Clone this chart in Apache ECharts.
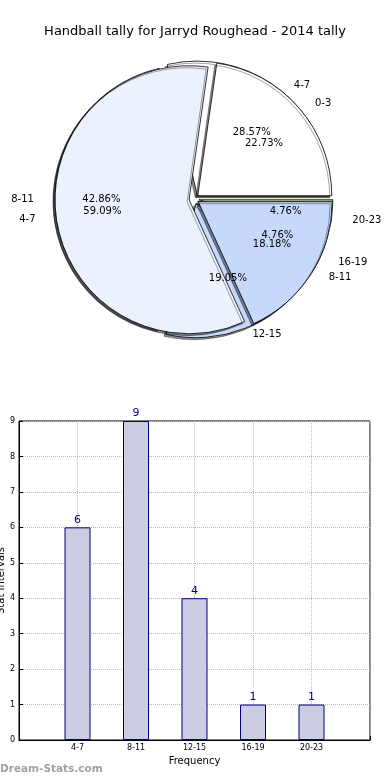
<!DOCTYPE html>
<html><head><meta charset="utf-8">
<script src="https://cdn.jsdelivr.net/npm/echarts@6/dist/echarts.min.js"></script>
<style>html,body{margin:0;padding:0;background:#fff}#c{width:390px;height:780px}</style>
</head><body><div id="c"></div>
<script>
const titleText = 'Handball tally for Jarryd Roughead - 2014 tally';
// Pie 1 (2014 tally)
const tallyCategories = ['4-7', '8-11', '12-15', '16-19', '20-23'];
const tallyValues = [6, 9, 4, 1, 1];
// Pie 2 (overlaid tally)
const otherCategories = ['0-3', '4-7', '8-11'];
const otherValues = [5, 13, 4];
// Bar chart
const barCategories = ['4-7', '8-11', '12-15', '16-19', '20-23'];
const barValues = [6, 9, 4, 1, 1];
const xAxisName = 'Frequency';
const yAxisName = 'Stat Intervals';
const watermark = 'Dream-Stats.com';

const FONT = 'DejaVu Sans';
const tallyColors = ['#ffffff', '#ebf1fd', '#c6d9fd', '#d6e6a4', '#b6c97c'];
const otherColors = ['#ffffff', '#ebf1fd', '#c6d9fd'];

const CENTER = [194, 199];
const R = 134;            // drawn radius
const RX = 141, RY = 128; // reference ellipse radii (for label placement)
const EXPLODE = 5;
const NAME_LEN = 14;

function midAngles(values) {
  const sum = values.reduce((a, b) => a + b, 0);
  let cum = 0;
  return values.map(v => { const m = (cum + v / 2) / sum * 2 * Math.PI; cum += v; return m; });
}

function visiblePie(names, values, colors) {
  const mids = midAngles(values);
  return {
    type: 'pie', center: CENTER, radius: R, startAngle: 0, clockwise: false,
    selectedMode: 'multiple', selectedOffset: EXPLODE, avoidLabelOverlap: false,
    animation: false, silent: true,
    itemStyle: { borderColor: '#000', borderWidth: 0.8, shadowColor: 'rgba(0,0,0,0.45)', shadowOffsetX: -2, shadowOffsetY: 2, shadowBlur: 0.5 },
    label: { show: true, position: 'outside', formatter: '{b}', fontSize: 10, color: '#000', fontFamily: FONT, distanceToLabelLine: 0 },
    labelLine: { show: false, length: NAME_LEN, length2: 0 },
    labelLayout: p => {
      const a = mids[p.dataIndex];
      return { hideOverlap: false,
        dx: (1.1 * RX - R - NAME_LEN) * Math.cos(a),
        dy: (R + NAME_LEN - 1.1 * RY) * Math.sin(a) };
    },
    emphasis: { disabled: true },
    data: names.map((n, i) => ({ name: n, value: values[i], selected: true, itemStyle: { color: colors[i] } }))
  };
}

function percentPie(names, values) {
  const sum = values.reduce((a, b) => a + b, 0);
  const mids = midAngles(values);
  return {
    type: 'pie', center: CENTER, radius: [0, R * 1.2], startAngle: 0, clockwise: false,
    selectedMode: 'multiple', selectedOffset: EXPLODE, avoidLabelOverlap: false,
    animation: false, silent: true,
    itemStyle: { color: 'rgba(0,0,0,0)', borderWidth: 0 },
    label: { show: true, position: 'inside', fontSize: 10, color: '#000', fontFamily: FONT,
      formatter: p => (p.value / sum * 100).toFixed(2) + '%' },
    labelLine: { show: false },
    labelLayout: p => {
      const a = mids[p.dataIndex];
      return { hideOverlap: false,
        dx: 0.6 * (RX - R) * Math.cos(a),
        dy: 0.6 * (R - RY) * Math.sin(a) };
    },
    emphasis: { disabled: true },
    data: names.map((n, i) => ({ name: n, value: values[i], selected: true }))
  };
}

const chart = echarts.init(document.getElementById('c'));
chart.setOption({
  backgroundColor: '#fff',
  animation: false,
  title: { text: titleText, left: 'center', top: 20, textStyle: { fontFamily: FONT, fontSize: 13, fontWeight: 'normal', color: '#000' } },
  graphic: [{ type: 'text', left: 0, top: 764, style: { text: watermark, fontFamily: FONT, fontSize: 10.5, fontWeight: 'bold', fill: '#a0a0a0' } }],
  grid: { left: 19, right: 20, top: 421, bottom: 40, show: true, borderColor: '#000', borderWidth: 1, containLabel: false, outerBoundsMode: 'none' },
  xAxis: {
    type: 'value', min: -1, max: 5, interval: 1,
    name: xAxisName, nameLocation: 'middle', nameGap: 16, nameMoveOverlap: false,
    nameTextStyle: { fontFamily: FONT, fontSize: 10, color: '#000' },
    axisLine: { onZero: false, lineStyle: { color: '#000' } },
    axisTick: { inside: true, length: 4, lineStyle: { color: '#000' } },
    axisLabel: { fontFamily: FONT, fontSize: 8, color: '#000', margin: 4,
      formatter: v => (barCategories[v] !== undefined ? barCategories[v] : '') },
    splitLine: { show: true, lineStyle: { color: '#b8b8b8', type: 'dotted' } }
  },
  yAxis: {
    type: 'value', min: 0, max: 9, interval: 1,
    name: yAxisName, nameLocation: 'middle', nameGap: 13, nameRotate: 90, nameMoveOverlap: false,
    nameTextStyle: { fontFamily: FONT, fontSize: 10, color: '#000' },
    axisLine: { show: true, onZero: false, lineStyle: { color: '#000' } },
    axisTick: { show: true, inside: true, length: 4, lineStyle: { color: '#000' } },
    axisLabel: { fontFamily: FONT, fontSize: 8, color: '#000', margin: 4 },
    splitLine: { show: true, lineStyle: { color: '#b8b8b8', type: 'dotted' } }
  },
  series: [
    visiblePie(tallyCategories, tallyValues, tallyColors),
    visiblePie(otherCategories, otherValues, otherColors),
    percentPie(tallyCategories, tallyValues),
    percentPie(otherCategories, otherValues),
    {
      type: 'bar', barWidth: 26, animation: false,
      data: barValues.map((v, i) => [i, v]),
      itemStyle: { color: '#ccccE3', borderColor: '#00007f', borderWidth: 1 },
      label: { show: true, position: 'top', distance: 2, color: '#00008b', fontFamily: FONT, fontSize: 11 }
    }
  ]
});
</script></body></html>
